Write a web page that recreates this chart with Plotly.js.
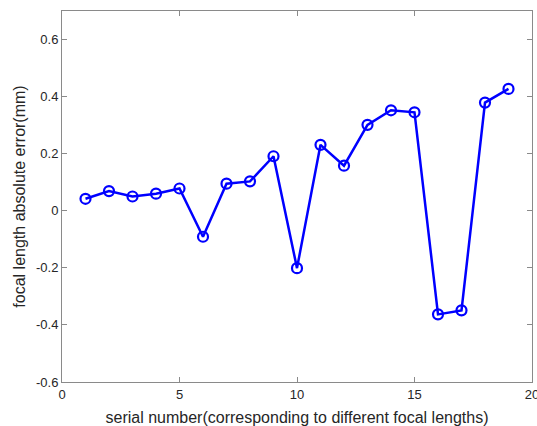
<!DOCTYPE html>
<html><head><meta charset="utf-8">
<script src="https://cdn.plot.ly/plotly-3.0.1.min.js"></script>
<style>html,body{margin:0;padding:0;background:#fff;}#c{width:537px;height:426px;}</style>
</head><body><div id="c"></div>
<script>
const serial = [1,2,3,4,5,6,7,8,9,10,11,12,13,14,15,16,17,18,19];
const absError = [0.042,0.069,0.050,0.060,0.078,-0.091,0.095,0.103,0.191,-0.201,0.231,0.158,0.301,0.352,0.345,-0.363,-0.349,0.379,0.427];
const xTicks = [0,5,10,15,20];
const yTicks = [-0.6,-0.4,-0.2,0,0.2,0.4,0.6];
const yTickText = ['-0.6','-0.4','-0.2','0','0.2','0.4','0.6'];

const FONT = 'Liberation Sans, Arial, sans-serif';
const axisCommon = {
  showline:true, mirror:'ticks', linecolor:'#8a8a8a', linewidth:1,
  ticks:'inside', ticklen:5, tickcolor:'#8a8a8a', tickwidth:1,
  showgrid:false, zeroline:false, ticklabeloverflow:'allow',
  tickfont:{family:FONT, size:13, color:'#262626'}
};
Plotly.newPlot('c', [{
  x: serial, y: absError, type:'scatter', mode:'lines+markers',
  line:{color:'#0000ff', width:2.5},
  marker:{symbol:'circle-open', size:10, color:'#0000ff', line:{width:2.2, color:'#0000ff'}}
}], {
  width:537, height:426,
  margin:{l:62, r:5, t:11, b:44},
  paper_bgcolor:'#fff', plot_bgcolor:'#fff', showlegend:false,
  xaxis: Object.assign({}, axisCommon, {range:[0,20], tickvals:xTicks, ticktext:xTicks.map(String),
    title:{text:'serial number(corresponding to different focal lengths)',
      font:{family:FONT, size:16, color:'#262626'}}}),
  yaxis: Object.assign({}, axisCommon, {range:[-0.6,0.7], tickvals:yTicks, ticktext:yTickText,
    title:{text:'focal length absolute error(mm)', standoff:6,
      font:{family:FONT, size:16, color:'#262626'}}})
}, {displayModeBar:false, staticPlot:true});
</script></body></html>
